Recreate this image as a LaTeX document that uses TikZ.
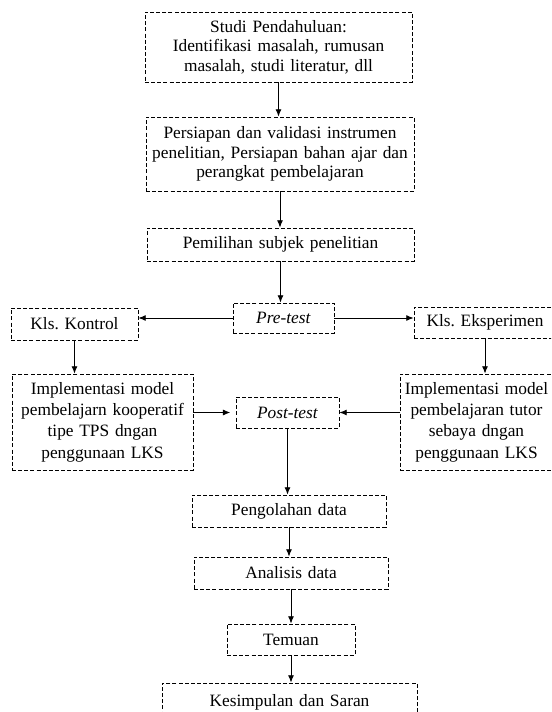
\documentclass[tikz,border=0pt]{standalone}
\usepackage{fontspec}
\setmainfont{Liberation Serif}
\usepackage{tikz}
\usetikzlibrary{calc,positioning,arrows.meta}
\newcommand{\pxu}{0.75pt}
\frenchspacing
\tikzset{
    proses/.style={
        draw,
        rectangle,
        dash pattern=on 3pt off 1.6pt,
        line width=0.6pt,
        inner xsep=0pt,
        inner ysep=0pt,
        align=center,
        font=\fontsize{13}{14.6}\selectfont
    },
    renggang/.style={
        font=\fontsize{13}{16}\selectfont
    },
    panah/.style={
        ->,
        line width=0.7pt,
        >={Latex[length=5.5pt,width=4.5pt]}
    }
}
\begin{document}
\begin{tikzpicture}[x=0.75pt,y=-0.75pt]
        \useasboundingbox (0,0) rectangle (551,712);
        \clip (0,0) rectangle (551,712);

        \node[proses,text width=267*\pxu,minimum height=70*\pxu] (Studi) at (278.5,47) {
                Studi Pendahuluan:
                \\
                Identifikasi masalah, rumusan
                \\
                masalah, studi literatur, dll
            };

        \node[proses,text width=268*\pxu,minimum height=74*\pxu] (Persiapan) at (280,154) {
                Persiapan dan validasi instrumen
                \\
                penelitian, Persiapan bahan ajar dan
                \\
                perangkat pembelajaran
            };

        \node[proses,text width=267*\pxu,minimum height=33*\pxu] (Pemilihan) at (280.5,244.5) {
                Pemilihan subjek penelitian
            };

        \node[proses,text width=101*\pxu,minimum height=30*\pxu] (PreTest) at (283.5,318) {
                \textit{Pre-test}
            };

        \node[proses,text width=127*\pxu,minimum height=32*\pxu] (Kontrol) at (74.5,324) {
                Kls. Kontrol
            };

        \node[proses,text width=142*\pxu,minimum height=31*\pxu] (Eksperimen) at (485,322.5) {
                Kls. Eksperimen
            };

        \node[proses,renggang,text width=181*\pxu,minimum height=96*\pxu] (ImplKontrol) at (102.5,422) {
                Implementasi model
                \\
                pembelajarn kooperatif
                \\
                tipe TPS dngan
                \\
                penggunaan LKS
            };

        \node[proses,renggang,text width=153*\pxu,minimum height=96*\pxu] (ImplEksperimen) at (476.5,422) {
                Implementasi model
                \\
                pembelajaran tutor
                \\
                sebaya dngan
                \\
                penggunaan LKS
            };

        \node[proses,text width=103*\pxu,minimum height=31*\pxu] (PostTest) at (287.5,412.5) {
                \textit{Post-test}
            };

        \node[proses,text width=194*\pxu,minimum height=32*\pxu] (Pengolahan) at (289,511) {
                Pengolahan data
            };

        \node[proses,text width=194*\pxu,minimum height=32*\pxu] (Analisis) at (291,573) {
                Analisis data
            };

        \node[proses,text width=128*\pxu,minimum height=31*\pxu] (Temuan) at (291,639.5) {
                Temuan
            };

        \node[proses,text width=255*\pxu,minimum height=38*\pxu] (Kesimpulan) at (289.5,702) {
                Kesimpulan dan Saran
            };

        \draw[panah] (Studi.south) -- (Studi.south |- Persiapan.north);
        \draw[panah] (Persiapan.south) -- (Persiapan.south |- Pemilihan.north);
        \draw[panah] (Pemilihan.south) -- (Pemilihan.south |- PreTest.north);
        \draw[panah] (PreTest.west) -- (PreTest.west -| Kontrol.east);
        \draw[panah] (PreTest.east) -- (PreTest.east -| Eksperimen.west);
        \draw[panah] (Kontrol.south) -- (Kontrol.south |- ImplKontrol.north);
        \draw[panah] (Eksperimen.south) -- (Eksperimen.south |- ImplEksperimen.north);
        \draw[panah,shorten >=4pt] (ImplKontrol.east |- PostTest.west) -- (PostTest.west);
        \draw[panah] (ImplEksperimen.west |- PostTest.east) -- (PostTest.east);
        \draw[panah] (PostTest.south) -- (PostTest.south |- Pengolahan.north);
        \draw[panah] (Pengolahan.south) -- (Pengolahan.south |- Analisis.north);
        \draw[panah] (Analisis.south) -- (Analisis.south |- Temuan.north);
        \draw[panah] (Temuan.south) -- (Temuan.south |- Kesimpulan.north);
\end{tikzpicture}
\end{document}
